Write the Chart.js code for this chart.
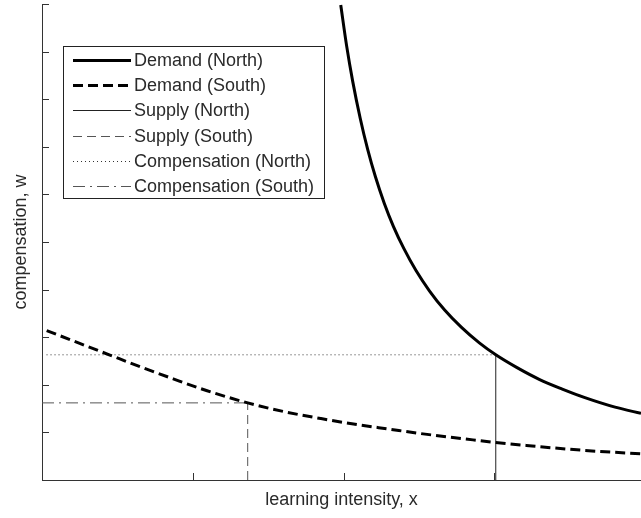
<!DOCTYPE html>
<html><head><meta charset="utf-8">
<script src="https://cdn.jsdelivr.net/npm/chart.js@4.4.0/dist/chart.umd.min.js"></script>
<style>html,body{margin:0;padding:0;background:#fff;}#wrap{width:641px;height:518px;}</style>
</head><body><div id="wrap"><canvas id="c" width="641" height="518"></canvas></div>
<script>
// ---- data ----
const demandNorthX = [1.981, 2.02, 2.06, 2.11, 2.16, 2.21, 2.27, 2.33, 2.40, 2.48, 2.57, 2.67, 2.78, 2.90, 3.009, 3.15, 3.30, 3.45, 3.60, 3.80, 3.972];
const demandNorthW = [9.98, 9.12, 8.38, 7.60, 6.94, 6.38, 5.81, 5.33, 4.86, 4.40, 3.97, 3.57, 3.21, 2.88, 2.63, 2.36, 2.11, 1.91, 1.73, 1.53, 1.40];
const demandSouthX = [0.031, 0.25, 0.45, 0.65, 0.87, 1.09, 1.364, 1.6, 1.85, 2.1, 2.3, 2.5, 2.8, 3.0, 3.25, 3.5, 3.7, 3.972];
const demandSouthW = [3.14, 2.87, 2.625, 2.38, 2.125, 1.88, 1.62, 1.44, 1.29, 1.16, 1.07, 0.98, 0.865, 0.79, 0.715, 0.645, 0.60, 0.55];
const supplyNorthX = [3.009, 3.009];
const supplyNorthW = [0, 2.63];
const supplySouthX = [1.364, 1.364];
const supplySouthW = [0, 1.62];
const compNorthX = [0.03, 3.009];
const compNorthW = [2.63, 2.63];
const compSouthX = [0, 1.364];
const compSouthW = [1.62, 1.62];
const seriesLabels = ["Demand (North)", "Demand (South)", "Supply (North)", "Supply (South)", "Compensation (North)", "Compensation (South)"];
const xTickValues = [0, 1, 2, 3];
const yTickValues = [0, 1, 2, 3, 4, 5, 6, 7, 8, 9, 10];
const xAxisTitle = "learning intensity, x";
const yAxisTitle = "compensation, w";

const pts = (xs, ys) => xs.map((x, i) => ({x: x, y: ys[i]}));
const FONT = "'Liberation Sans', Arial, sans-serif";

const datasets = [
  {label: seriesLabels[0], data: pts(demandNorthX, demandNorthW), borderColor: '#000', borderWidth: 3, cubicInterpolationMode: 'monotone'},
  {label: seriesLabels[1], data: pts(demandSouthX, demandSouthW), borderColor: '#000', borderWidth: 3, borderDash: [10, 5], cubicInterpolationMode: 'monotone'},
  {label: seriesLabels[2], data: pts(supplyNorthX, supplyNorthW), borderColor: '#222', borderWidth: 1},
  {label: seriesLabels[3], data: pts(supplySouthX, supplySouthW), borderColor: '#555', borderWidth: 1, borderDash: [9, 5]},
  {label: seriesLabels[4], data: pts(compNorthX, compNorthW), borderColor: '#333', borderWidth: 1, borderDash: [1, 3]},
  {label: seriesLabels[5], data: pts(compSouthX, compSouthW), borderColor: '#555', borderWidth: 1, borderDash: [12, 5, 2, 5]}
].map(d => Object.assign({showLine: true, pointRadius: 0, pointHoverRadius: 0, fill: false}, d));

const decorPlugin = {
  id: 'decor',
  afterDatasetsDraw(chart) {
    const ctx = chart.ctx, xs = chart.scales.x, ys = chart.scales.y;
    const a = chart.chartArea;
    ctx.save();
    ctx.strokeStyle = '#333';
    ctx.lineWidth = 1;
    ctx.setLineDash([]);
    ctx.beginPath();
    yTickValues.forEach(v => {
      const py = Math.round(ys.getPixelForValue(v)) + 0.5;
      ctx.moveTo(a.left, py); ctx.lineTo(a.left + 7, py);
    });
    xTickValues.forEach(v => {
      const px = Math.round(xs.getPixelForValue(v)) + 0.5;
      ctx.moveTo(px, a.bottom); ctx.lineTo(px, a.bottom - 7);
    });
    ctx.stroke();

    // legend box
    const bx = 63.5, by = 46.5, bw = 261, bh = 152;
    ctx.fillStyle = '#fff';
    ctx.fillRect(bx, by, bw, bh);
    ctx.strokeStyle = '#222';
    ctx.strokeRect(bx, by, bw, bh);
    ctx.font = '18px ' + FONT;
    ctx.textBaseline = 'middle';
    ctx.textAlign = 'left';
    chart.data.datasets.forEach((d, i) => {
      const yy = 60 + i * 25.2;
      const off = d.borderWidth % 2 ? 0.5 : 0;
      ctx.beginPath();
      ctx.strokeStyle = d.borderColor;
      ctx.lineWidth = d.borderWidth;
      ctx.setLineDash(d.borderDash || []);
      ctx.moveTo(73, Math.round(yy) + off);
      ctx.lineTo(131, Math.round(yy) + off);
      ctx.stroke();
      ctx.setLineDash([]);
      ctx.fillStyle = '#2a2a2a';
      ctx.fillText(d.label, 134, yy + 1);
    });
    ctx.restore();
  }
};

new Chart(document.getElementById('c'), {
  type: 'scatter',
  data: {datasets: datasets},
  options: {
    responsive: false,
    animation: false,
    devicePixelRatio: 1,
    layout: {padding: {top: 4, right: 0, left: 0, bottom: 0}},
    plugins: {legend: {display: false}, tooltip: {enabled: false}},
    scales: {
      x: {
        type: 'linear', min: 0, max: 3.972,
        ticks: {display: false, stepSize: 1},
        grid: {display: false},
        border: {display: true, color: '#333', width: 1},
        title: {display: true, text: xAxisTitle, color: '#2a2a2a', font: {family: FONT, size: 18}, padding: {top: 0, bottom: 7}},
        afterFit(s) { s.height = 38; }
      },
      y: {
        type: 'linear', min: 0, max: 10,
        ticks: {display: false, stepSize: 1},
        grid: {display: false},
        border: {display: true, color: '#333', width: 1},
        title: {display: true, text: yAxisTitle, color: '#2a2a2a', font: {family: FONT, size: 18}, padding: {top: 10, bottom: 0}},
        afterFit(s) { s.width = 42; }
      }
    }
  },
  plugins: [decorPlugin]
});
</script></body></html>
